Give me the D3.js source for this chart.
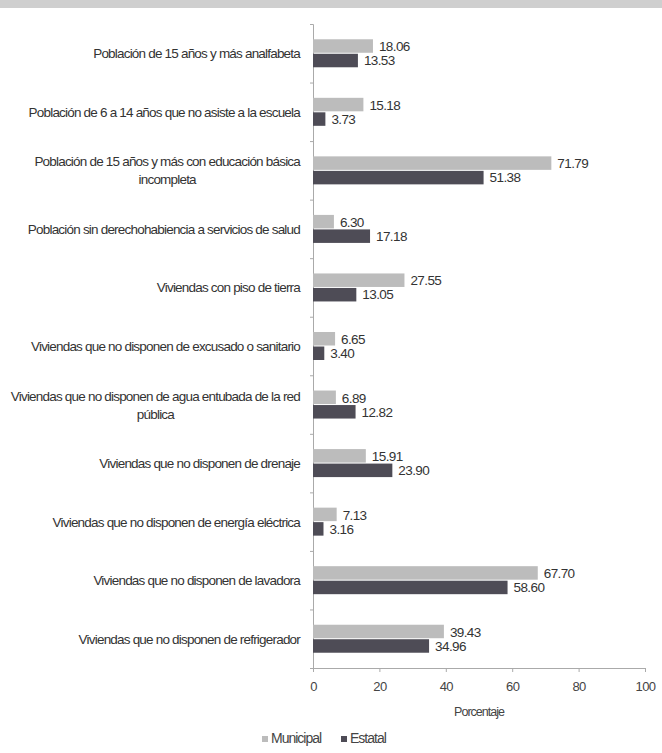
<!DOCTYPE html>
<html lang="es">
<head>
<meta charset="UTF-8">
<title>Rezago social</title>
<script src="https://d3js.org/d3.v7.min.js"></script>
<style>
  body { margin: 0; background: #fff; }
  svg { font-family: "Liberation Sans", Arial, sans-serif; }
</style>
</head>
<body>
<svg width="662" height="753"></svg>
<script>
// categories, top to bottom (second line of label after "|")
var categorias = [
  "Población de 15 años y más analfabeta",
  "Población de 6 a 14 años que no asiste a la escuela",
  "Población de 15 años y más con educación básica|incompleta",
  "Población sin derechohabiencia a servicios de salud",
  "Viviendas con piso de tierra",
  "Viviendas que no disponen de excusado o sanitario",
  "Viviendas que no disponen de agua entubada de la red|pública",
  "Viviendas que no disponen de drenaje",
  "Viviendas que no disponen de energía eléctrica",
  "Viviendas que no disponen de lavadora",
  "Viviendas que no disponen de refrigerador"
];
var municipal = [18.06, 15.18, 71.79, 6.30, 27.55, 6.65, 6.89, 15.91, 7.13, 67.70, 39.43];
var estatal   = [13.53, 3.73, 51.38, 17.18, 13.05, 3.40, 12.82, 23.90, 3.16, 58.60, 34.96];
var ticks = [0, 20, 40, 60, 80, 100];
var series = ["Municipal", "Estatal"];
var colores = ["#bcbcbc", "#4e4c56"];

var svg = d3.select("svg");

// strip at the top of the scan
svg.append("rect").attr("x", 0).attr("y", 0).attr("width", 662).attr("height", 8).attr("fill", "#cfcfcf");

var x = d3.scaleLinear().domain([0, 100]).range([313, 645]);
var y = d3.scaleBand().domain(d3.range(categorias.length)).range([24, 668]);
var barH = 13.5;

// axes
var xAxis = svg.append("g").attr("transform", "translate(0,668)")
  .call(d3.axisBottom(x).tickValues(ticks).tickSize(4).tickPadding(10));
xAxis.select(".domain").attr("stroke", "#aaa");
xAxis.selectAll(".tick line").attr("stroke", "#aaa");
xAxis.selectAll(".tick text").attr("font-size", 13).attr("fill", "#444")
  .attr("font-family", "Liberation Sans, Arial, sans-serif").style("letter-spacing", "-0.6px");

var yAxis = svg.append("g").attr("transform", "translate(313,0)")
  .call(d3.axisLeft(d3.scaleLinear().domain([0, categorias.length]).range([24, 668]))
    .tickValues(d3.range(categorias.length + 1)).tickSize(3).tickFormat(""));
yAxis.select(".domain").attr("stroke", "#aaa");
yAxis.selectAll(".tick line").attr("stroke", "#aaa");

// category labels
var lab = svg.append("g").selectAll("text").data(categorias).enter().append("text")
  .attr("text-anchor", "end")
  .attr("font-size", 13.5)
  .attr("fill", "#333")
  .style("letter-spacing", "-0.8px");
lab.each(function (d, i) {
  var lines = d.split("|");
  var cy = y(i) + y.bandwidth() / 2;
  var t = d3.select(this);
  lines.forEach(function (l, k) {
    t.append("tspan")
      .attr("x", 300)
      .attr("y", cy + 5 + (k - (lines.length - 1) / 2) * 18)
      .text(l);
  });
});
// second lines are centered under the first line in the original
lab.each(function (d, i) {
  var sp = d3.select(this).selectAll("tspan").nodes();
  if (sp.length > 1) {
    var w0 = sp[0].getComputedTextLength();
    d3.select(sp[1]).attr("text-anchor", "middle").attr("x", 300 - w0 / 2);
  }
});

// bars
var g = svg.append("g");
[municipal, estatal].forEach(function (vals, s) {
  g.selectAll(".b" + s).data(vals).enter().append("rect")
    .attr("class", "b" + s)
    .attr("x", x(0))
    .attr("y", function (d, i) { return y(i) + y.bandwidth() / 2 - barH - 0.5 + s * (barH + 1); })
    .attr("width", function (d) { return x(d) - x(0); })
    .attr("height", barH)
    .attr("fill", colores[s]);
  g.selectAll(".v" + s).data(vals).enter().append("text")
    .attr("x", function (d) { return x(d) + 6; })
    .attr("y", function (d, i) { return y(i) + y.bandwidth() / 2 - 2 + s * 14; })
    .attr("font-size", 13.5)
    .attr("fill", "#333")
    .style("letter-spacing", "-0.6px")
    .text(function (d) { return d.toFixed(2); });
});

// axis title
svg.append("text").attr("x", x(50)).attr("y", 716).attr("text-anchor", "middle")
  .attr("font-size", 12.5).attr("fill", "#444").style("letter-spacing", "-1px").text("Porcentaje");

// legend
var leg = svg.append("g").selectAll("g").data(series).enter().append("g")
  .attr("transform", function (d, i) { return "translate(" + (262 + i * 79) + ",743)"; });
leg.append("rect").attr("x", 0).attr("y", -7).attr("width", 6).attr("height", 6)
  .attr("fill", function (d, i) { return colores[i]; });
leg.append("text").attr("x", 9).attr("y", 0).attr("font-size", 14).attr("fill", "#444")
  .style("letter-spacing", "-1px").text(function (d) { return d; });
</script>
</body>
</html>
